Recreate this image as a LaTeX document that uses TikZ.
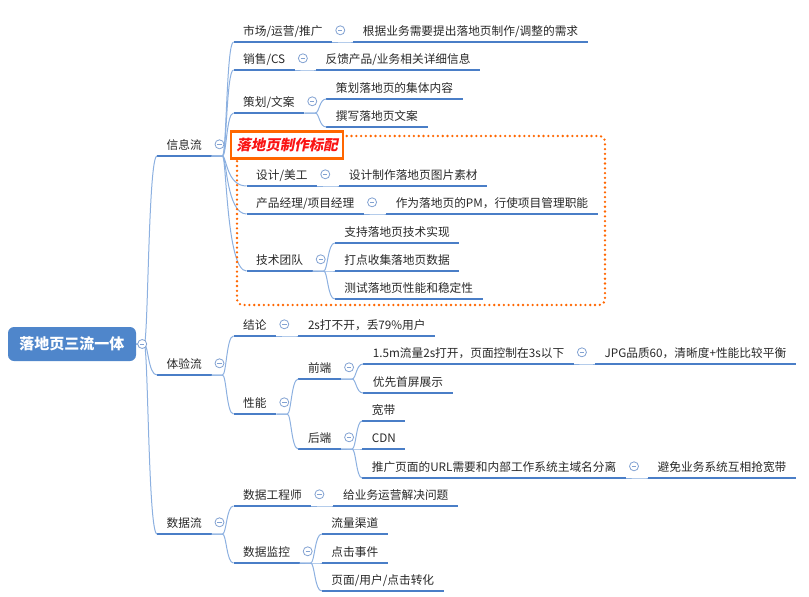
\documentclass[tikz,border=0pt]{standalone}
\usepackage{fontspec}
\setmainfont{Noto Sans CJK SC}
\newfontfamily\tagfont[FakeSlant=0.2]{Noto Sans CJK SC}
\usetikzlibrary{calc}

\definecolor{ulc}{RGB}{74,126,199}
\definecolor{linkc}{RGB}{140,176,224}
\definecolor{foldc}{RGB}{130,162,210}
\definecolor{rootc}{RGB}{79,134,203}
\definecolor{txtc}{RGB}{40,40,40}
\definecolor{orangec}{RGB}{255,102,0}
\definecolor{tagred}{RGB}{250,20,20}

% thin curved connector: straight stub, then bend into the child's underline
\newcommand\mlink[3][11pt]{%
  \draw[link] let \p1=(#2), \p2=(#3.south west) in
    (\p1) -- (\x1+#1,\y1) .. controls (\x1+#1+4pt,\y1) and (\x1+#1+4pt,\y2) .. (\p2);}

\begin{document}
\begin{tikzpicture}[x=1pt,y=-1pt,
    topic/.style={anchor=south west, inner xsep=9.5pt, inner ysep=3.5pt,
      text height=9.5pt, text depth=2.5pt, text=txtc,
      font=\fontsize{11.7}{14}\selectfont,
      append after command={(\tikzlastnode.south west) edge[uline] (\tikzlastnode.south east)}},
    uline/.style={draw=ulc, line width=2.5pt},
    link/.style={draw=linkc, line width=1pt},
    fold/.style={circle, draw=foldc, fill=white, line width=0.8pt, minimum size=9pt, inner sep=0pt,
      path picture={\draw[foldc, line width=0.8pt]
        ([xshift=-2.2pt]path picture bounding box.center) -- ([xshift=2.2pt]path picture bounding box.center);}},
    rootbox/.style={fill=rootc, rounded corners=6pt, minimum width=128pt, minimum height=34pt,
      text=white, font=\bfseries\fontsize{15}{18}\selectfont},
    tagbox/.style={draw=orangec, fill=white, line width=2.8pt, minimum width=112pt, minimum height=27pt,
      inner sep=0pt, text=tagred, font=\tagfont\bfseries\fontsize{14.5}{16}\selectfont},
    group/.style={draw=orangec, line width=2.6pt, line cap=round, dash pattern=on 0pt off 4.8pt, rounded corners=6pt}]
  \useasboundingbox (0,0) rectangle (809,597);

  \node[rootbox] (root) at (72,344) {落地页三流一体};
  \node[topic] (xinxi) at (157,156) {信息流};
  \node[topic] (tiyan) at (157,375) {体验流};
  \node[topic] (shuju) at (157,534) {数据流};

  % 信息流
  \node[topic] (shichang) at ($(xinxi.south east)+(22,-114)$) {市场/运营/推广};
  \node[topic] (xiaoshou) at ($(xinxi.south east)+(22,-86)$) {销售/CS};
  \node[topic] (cehua) at ($(xinxi.south east)+(22,-43)$) {策划/文案};
  \node[topic] (sheji) at ($(xinxi.south east)+(35,30)$) {设计/美工};
  \node[topic] (chanpin) at ($(xinxi.south east)+(35,58)$) {产品经理/项目经理};
  \node[topic] (jishu) at ($(xinxi.south east)+(35,115)$) {技术团队};
  \node[topic] (shichang-a) at ($(shichang.south east)+(21,0)$) {根据业务需要提出落地页制作/调整的需求};
  \node[topic] (xiaoshou-a) at ($(xiaoshou.south east)+(21,0)$) {反馈产品/业务相关详细信息};
  \node[topic] (cehua-a) at ($(cehua.south east)+(22,-14)$) {策划落地页的集体内容};
  \node[topic] (cehua-b) at ($(cehua.south east)+(22,14)$) {撰写落地页文案};
  \node[topic] (sheji-a) at ($(sheji.south east)+(22,0)$) {设计制作落地页图片素材};
  \node[topic] (chanpin-a) at ($(chanpin.south east)+(22,0)$) {作为落地页的PM，行使项目管理职能};
  \node[topic] (jishu-a) at ($(jishu.south east)+(22,-28)$) {支持落地页技术实现};
  \node[topic] (jishu-b) at ($(jishu.south east)+(22,0)$) {打点收集落地页数据};
  \node[topic] (jishu-c) at ($(jishu.south east)+(22,28)$) {测试落地页性能和稳定性};

  % 体验流
  \node[topic] (jielun) at ($(tiyan.south east)+(22,-39)$) {结论};
  \node[topic] (xingneng) at ($(tiyan.south east)+(22,39)$) {性能};
  \node[topic] (jielun-a) at ($(jielun.south east)+(22,0)$) {2s打不开，丢79\%用户};
  \node[topic] (qianduan) at ($(xingneng.south east)+(22,-35)$) {前端};
  \node[topic] (houduan) at ($(xingneng.south east)+(22,35)$) {后端};
  \node[topic] (qian-a) at ($(qianduan.south east)+(22,-15)$) {1.5m流量2s打开，页面控制在3s以下};
  \node[topic] (qian-b) at ($(qianduan.south east)+(22,14)$) {优先首屏展示};
  \node[topic] (qian-a-a) at ($(qian-a.south east)+(21,0)$) {JPG品质60，清晰度+性能比较平衡};
  \node[topic] (hou-a) at ($(houduan.south east)+(21,-28)$) {宽带};
  \node[topic] (hou-b) at ($(houduan.south east)+(21,0)$) {CDN};
  \node[topic] (hou-c) at ($(houduan.south east)+(21,29)$) {推广页面的URL需要和内部工作系统主域名分离};
  \node[topic] (hou-c-a) at ($(hou-c.south east)+(22,0)$) {避免业务系统互相抢宽带};

  % 数据流
  \node[topic] (gcs) at ($(shuju.south east)+(22,-28)$) {数据工程师};
  \node[topic] (jiankong) at ($(shuju.south east)+(22,29)$) {数据监控};
  \node[topic] (gcs-a) at ($(gcs.south east)+(22,0)$) {给业务运营解决问题};
  \node[topic] (jk-a) at ($(jiankong.south east)+(22,-29)$) {流量渠道};
  \node[topic] (jk-b) at ($(jiankong.south east)+(22,0)$) {点击事件};
  \node[topic] (jk-c) at ($(jiankong.south east)+(22,28)$) {页面/用户/点击转化};

  % connectors
  \foreach \dst in {xinxi,tiyan,shuju} {\mlink[8pt]{root.east}{\dst}}
  \foreach \src/\dst in {xinxi/shichang, xinxi/xiaoshou, xinxi/cehua, xinxi/sheji, xinxi/chanpin, xinxi/jishu,
      shichang/shichang-a, xiaoshou/xiaoshou-a, cehua/cehua-a, cehua/cehua-b, sheji/sheji-a,
      chanpin/chanpin-a, jishu/jishu-a, jishu/jishu-b, jishu/jishu-c,
      tiyan/jielun, tiyan/xingneng, jielun/jielun-a, xingneng/qianduan, xingneng/houduan,
      qianduan/qian-a, qianduan/qian-b, qian-a/qian-a-a, houduan/hou-a, houduan/hou-b, houduan/hou-c,
      hou-c/hou-c-a, shuju/gcs, shuju/jiankong, gcs/gcs-a, jiankong/jk-a, jiankong/jk-b, jiankong/jk-c}
    {\mlink{\src.south east}{\dst}}

  % 标配 group
  \draw[group] (237,136) rectangle (605,305);
  \node[tagbox] (tag) at (287,145) {落地页制作标配};

  % fold markers
  \node[fold] (f-root) at ([xshift=6pt]root.east) {};
  \foreach \n in {xinxi,tiyan,shuju,shichang,xiaoshou,cehua,sheji,chanpin,jishu,
      jielun,xingneng,qianduan,houduan,qian-a,hou-c,gcs,jiankong}
    \node[fold] (f-\n) at ([xshift=8pt,yshift=2pt]\n.east) {};
\end{tikzpicture}
\end{document}
